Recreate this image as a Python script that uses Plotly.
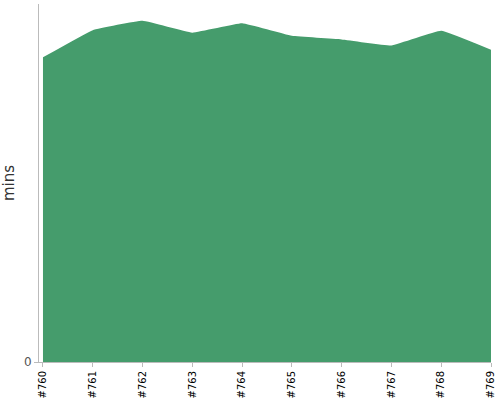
import plotly.graph_objects as go

builds = ["#760", "#761", "#762", "#763", "#764", "#765", "#766", "#767", "#768", "#769"]
mins = [85.1, 92.7, 95.3, 92.0, 94.6, 91.1, 90.1, 88.4, 92.5, 87.2]

fig = go.Figure()
fig.add_trace(
    go.Scatter(
        x=builds,
        y=mins,
        mode="lines",
        fill="tozeroy",
        fillcolor="#459c6c",
        line={"color": "#459c6c", "width": 0, "shape": "spline", "smoothing": 0.25},
        hoverinfo="x+y",
    )
)

fig.update_layout(
    width=500,
    height=400,
    margin=dict(l=39, r=9, t=4, b=38),
    plot_bgcolor="white",
    paper_bgcolor="white",
    showlegend=False,
    font=dict(family="DejaVu Sans, Arial, sans-serif", color="#333"),
)
fig.update_xaxes(
    automargin=False,
    tickangle=-90,
    tickfont=dict(size=10, color="#000"),
    showgrid=False,
    showline=True,
    linecolor="#bbb",
    ticks="outside",
    ticklen=4,
    tickcolor="#bbb",
    range=[-0.08, 9],
)
fig.update_yaxes(
    automargin=False,
    title=dict(text="mins", font=dict(size=15, color="#333"), standoff=10),
    range=[0, 100],
    tickvals=[0],
    tickfont=dict(size=12, color="#555"),
    showgrid=False,
    zeroline=False,
    showline=True,
    linecolor="#bbb",
    ticks="outside",
    ticklen=4,
    tickcolor="#bbb",
)

# page body has an 8px margin by default, drop it so the figure sits at 0,0
fig.write_html(
    "out.html",
    config={"displayModeBar": False},
    post_script="document.body.style.margin='0px';",
)
